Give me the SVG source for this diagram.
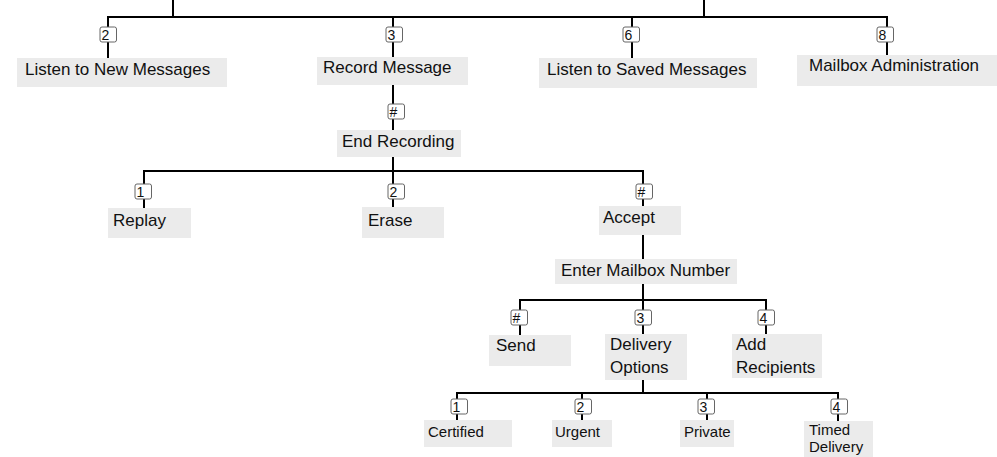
<svg xmlns="http://www.w3.org/2000/svg" width="997" height="457" viewBox="0 0 997 457">
<style>
.n{fill:#ebebeb}
.t{font-family:"Liberation Sans",Arial,sans-serif;font-size:17px;fill:#111}
.s{font-size:15px}
.k rect{fill:#fff;stroke:#666;stroke-width:1}
.k text{font-family:"Liberation Sans",Arial,sans-serif;font-size:14px;fill:#111}
.c{stroke:#000;stroke-width:2;fill:none}
</style>
<rect width="997" height="457" fill="#fff"/>
<g id="connectors" class="c">
<path d="M173 0V17M704 0V17M107 17H888"/>
<path d="M108 17V58M393 17V57M632 17V58M887 17V55"/>
<path d="M393 85V130M393 157V171M143 171H644"/>
<path d="M144 171V208M393 171V207M643 171V206"/>
<path d="M643 235V259M643 284V300M519 300H767"/>
<path d="M520 300V335M643 300V334M766 300V334"/>
<path d="M643 380V393M456 393H839"/>
<path d="M457 393V420M582 393V420M707 393V420M838 393V421"/>
</g>
<g id="keys" class="k">
<g><rect x="100" y="27" width="16.5" height="15" rx="2"/><text x="101.5" y="40">2</text></g>
<g><rect x="386" y="27" width="16.5" height="15" rx="2"/><text x="387.5" y="40">3</text></g>
<g><rect x="623" y="27" width="16.5" height="15" rx="2"/><text x="624.5" y="40">6</text></g>
<g><rect x="877" y="27" width="16.5" height="15" rx="2"/><text x="878.5" y="40">8</text></g>
<g><rect x="388" y="104" width="16.5" height="15" rx="2"/><text x="389.5" y="117">#</text></g>
<g><rect x="135" y="184" width="16.5" height="15" rx="2"/><text x="136.5" y="197">1</text></g>
<g><rect x="388" y="184" width="16.5" height="15" rx="2"/><text x="389.5" y="197">2</text></g>
<g><rect x="636" y="184" width="16.5" height="15" rx="2"/><text x="637.5" y="197">#</text></g>
<g><rect x="511" y="310" width="16.5" height="15" rx="2"/><text x="512.5" y="323">#</text></g>
<g><rect x="635" y="310" width="16.5" height="15" rx="2"/><text x="636.5" y="323">3</text></g>
<g><rect x="758" y="310" width="16.5" height="15" rx="2"/><text x="759.5" y="323">4</text></g>
<g><rect x="451" y="399" width="16.5" height="15" rx="2"/><text x="452.5" y="412">1</text></g>
<g><rect x="575" y="399" width="16.5" height="15" rx="2"/><text x="576.5" y="412">2</text></g>
<g><rect x="698" y="399" width="16.5" height="15" rx="2"/><text x="699.5" y="412">3</text></g>
<g><rect x="831" y="399" width="16.5" height="15" rx="2"/><text x="832.5" y="412">4</text></g>
</g>
<g id="listen-new"><rect class="n" x="17" y="58" width="210" height="29"/><text class="t" x="25" y="75">Listen to New Messages</text></g>
<g id="record"><rect class="n" x="317" y="57" width="151" height="28"/><text class="t" x="323" y="73">Record Message</text></g>
<g id="listen-saved"><rect class="n" x="539" y="58" width="218" height="30"/><text class="t" x="547" y="75">Listen to Saved Messages</text></g>
<g id="mailbox-admin"><rect class="n" x="797" y="55" width="200" height="31"/><text class="t" x="809" y="71">Mailbox Administration</text></g>
<g id="end-recording"><rect class="n" x="337" y="130" width="124" height="27"/><text class="t" x="342" y="147">End Recording</text></g>
<g id="replay"><rect class="n" x="108" y="208" width="83" height="30"/><text class="t" x="113" y="226">Replay</text></g>
<g id="erase"><rect class="n" x="362" y="207" width="82" height="31"/><text class="t" x="368" y="226">Erase</text></g>
<g id="accept"><rect class="n" x="599" y="206" width="82" height="29"/><text class="t" x="603" y="223">Accept</text></g>
<g id="enter-mailbox"><rect class="n" x="555" y="259" width="182" height="25"/><text class="t" x="561" y="276">Enter Mailbox Number</text></g>
<g id="send"><rect class="n" x="489" y="335" width="82" height="31"/><text class="t" x="496" y="351">Send</text></g>
<g id="delivery-options"><rect class="n" x="605" y="334" width="82" height="46"/><text class="t" x="610" y="350">Delivery</text><text class="t" x="610" y="373">Options</text></g>
<g id="add-recipients"><rect class="n" x="732" y="334" width="90" height="44"/><text class="t" x="736" y="350">Add</text><text class="t" x="736" y="373">Recipients</text></g>
<g id="certified"><rect class="n" x="424" y="420" width="88" height="27"/><text class="t s" x="428" y="437">Certified</text></g>
<g id="urgent"><rect class="n" x="552" y="420" width="60" height="27"/><text class="t s" x="555" y="437">Urgent</text></g>
<g id="private"><rect class="n" x="680" y="420" width="54" height="27"/><text class="t s" x="684" y="437">Private</text></g>
<g id="timed-delivery"><rect class="n" x="804" y="421" width="69" height="36"/><text class="t s" x="809" y="435">Timed</text><text class="t s" x="809" y="452">Delivery</text></g>
</svg>
